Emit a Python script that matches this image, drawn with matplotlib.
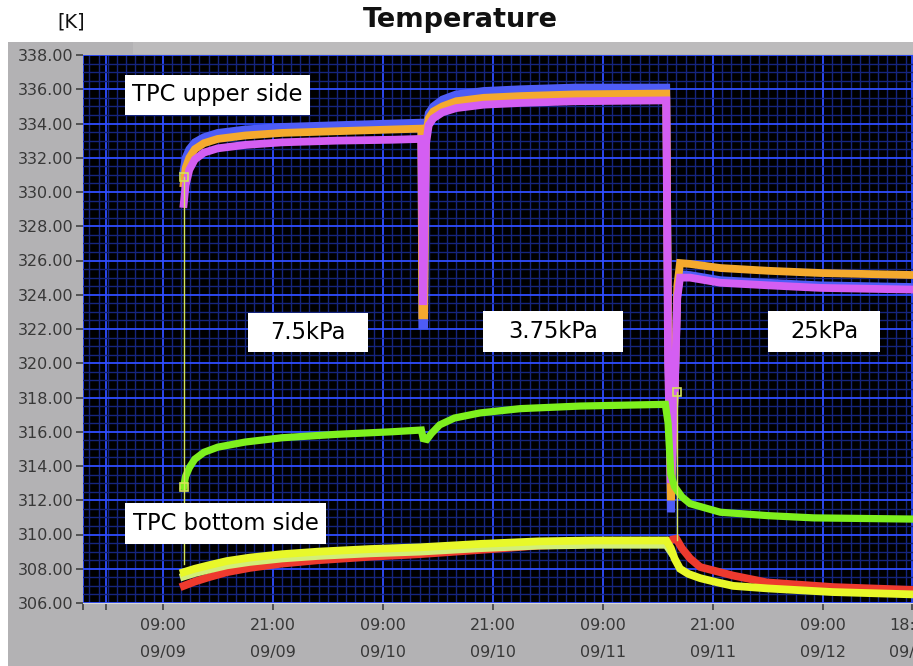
import matplotlib
matplotlib.use("Agg")
import matplotlib.pyplot as plt
from matplotlib.patches import Rectangle
from matplotlib.ticker import MultipleLocator, FixedLocator

# time axis: hours since 09/09 00:00
blue_t = [11.29, 11.5, 11.9, 12.5, 13.5, 15, 18, 22, 28, 34, 37.2, 37.3, 37.5, 37.7, 38.0, 38.5,
          39.5, 41, 44, 48, 54, 63.9, 64.1, 64.4, 64.8, 65.1, 65.4, 66.5, 69.8, 75, 80.7, 91]
blue_k = [331.3, 332.0, 332.5, 332.9, 333.2, 333.45, 333.65, 333.8, 333.9, 334.0, 334.05, 322.2, 322.2,
          333.5, 334.6, 335.0, 335.4, 335.7, 335.9, 336.0, 336.1, 336.1, 322.0, 311.3, 318.0, 324.0,
          325.2, 325.15, 324.85, 324.7, 324.55, 324.45]

orange_t = [11.29, 11.5, 11.9, 12.5, 13.5, 15, 18, 22, 28, 34, 37.2, 37.3, 37.5, 37.7, 38.0, 38.5,
            39.5, 41, 44, 48, 54, 63.9, 64.1, 64.4, 64.8, 65.1, 65.4, 66.5, 69.8, 75, 80.7, 91]
orange_k = [330.5, 331.4, 332.0, 332.5, 332.85, 333.1, 333.3, 333.45, 333.55, 333.65, 333.7, 322.8,
            322.8, 333.3, 334.3, 334.7, 335.0, 335.3, 335.5, 335.6, 335.7, 335.75, 322.0, 312.0, 318.0,
            324.5, 325.85, 325.8, 325.56, 325.4, 325.27, 325.15]

magenta_t = [11.29, 11.5, 11.9, 12.5, 13.5, 15, 18, 22, 28, 34, 37.2, 37.4, 37.7, 38.0, 38.5,
             39.5, 41, 44, 48, 54, 63.9, 64.1, 64.4, 64.8, 65.1, 65.4, 66.5, 69.8, 75, 80.7, 91]
magenta_k = [329.3, 330.4, 331.3, 331.9, 332.3, 332.55, 332.75, 332.9, 333.0, 333.05, 333.1, 323.4,
             332.8, 333.9, 334.3, 334.65, 334.9, 335.1, 335.2, 335.3, 335.35, 320.0, 313.0, 318.0,
             323.8, 325.0, 325.0, 324.7, 324.55, 324.4, 324.3]

green_t = [11.29, 11.5, 11.9, 12.5, 13.5, 15, 18, 22, 28, 34, 37.2, 37.4, 37.8, 38.3, 39.2, 40.8,
           43.6, 48, 54.5, 63.8, 64.1, 64.4, 64.8, 65.6, 66.5, 69.8, 75, 80, 91]
green_k = [312.8, 313.4, 313.9, 314.4, 314.8, 315.1, 315.4, 315.65, 315.85, 316.0, 316.1, 315.6,
           315.55, 315.9, 316.4, 316.8, 317.1, 317.35, 317.5, 317.6, 316.5, 313.5, 312.8, 312.2,
           311.8, 311.3, 311.1, 310.97, 310.9]

red_t = [11.29, 12.5, 14, 16, 18.5, 22, 26, 31.6, 37, 43.6, 50, 56, 63.9, 64.5, 65.0, 65.6,
         66.5, 67.6, 71.2, 74.9, 82.1, 91]
red_k = [307.0, 307.25, 307.5, 307.8, 308.05, 308.3, 308.5, 308.7, 308.85, 309.1, 309.35, 309.45,
         309.5, 309.7, 309.75, 309.2, 308.6, 308.1, 307.6, 307.2, 306.93, 306.76]

pale_t = [11.29, 12.5, 14, 16, 18.5, 22, 26, 31.6, 37, 43.6, 50, 56, 63.9, 64.4]
pale_k = [307.55, 307.75, 307.95, 308.2, 308.4, 308.6, 308.75, 308.9, 309.0, 309.2, 309.35, 309.4,
          309.4, 309.0]

yellow_t = [11.29, 12.5, 14, 16, 18.5, 22, 26, 31.6, 37, 43.6, 50, 56, 63.9, 64.4, 64.8, 65.4,
            66.3, 67.6, 69.5, 71.2, 75, 82, 91]
yellow_k = [307.8, 308.0, 308.2, 308.45, 308.65, 308.85, 309.0, 309.15, 309.25, 309.45, 309.6,
            309.65, 309.65, 309.2, 308.6, 308.0, 307.7, 307.45, 307.2, 307.0, 306.85, 306.64, 306.5]

# cursor lines (time, top K, bottom K) and their square markers
cursor_t = [11.29, 65.07]
cursor_top = [330.9, 318.3]
cursor_bottom = [308.3, 309.7]
marker_t = [11.29, 11.29, 65.07]
marker_k = [330.9, 312.8, 318.3]

xtick_pos = [0.35, 2.8, 9, 21, 33, 45, 57, 69, 81, 90.7]
xtick_labels = ["", "", "09:00\n09/09", "21:00\n09/09", "09:00\n09/10", "21:00\n09/10",
                "09:00\n09/11", "21:00\n09/11", "09:00\n09/12", "18:00\n09/12"]

W, H = 913, 666
fig = plt.figure(figsize=(W / 100, H / 100), dpi=100, facecolor="white")

# gray instrument frame
fig.add_artist(Rectangle((8 / W, 0), (W - 8) / W, (H - 42) / H, transform=fig.transFigure,
                         facecolor="#b3b2b4", edgecolor="none", zorder=-10))
fig.add_artist(Rectangle((133 / W, (H - 54) / H), (W - 133) / W, 12 / H, transform=fig.transFigure,
                         facecolor="#bcbbbc", edgecolor="none", zorder=-9))

ax = fig.add_axes([83 / W, 63 / H, 830 / W, 548 / H])
ax.set_facecolor("black")
ax.set_xlim(0.31, 90.8)
ax.set_ylim(306, 338)

ax.xaxis.set_major_locator(FixedLocator(xtick_pos))
ax.set_xticklabels(xtick_labels)
ax.xaxis.set_minor_locator(MultipleLocator(1))
ax.yaxis.set_major_locator(MultipleLocator(2))
ax.yaxis.set_minor_locator(MultipleLocator(0.5))
ax.yaxis.set_major_formatter(lambda v, p: f"{v:.2f}")

ax.grid(which="minor", color="#15257e", lw=1.0)
ax.grid(which="major", color="#2f4dff", lw=1.3)
ax.set_axisbelow(True)

ax.tick_params(axis="y", which="major", length=5, width=1.2, color="#404040", pad=2,
               labelsize=11.5, labelcolor="#383838")
ax.tick_params(axis="x", which="major", length=5, width=1.2, color="#404040", pad=6,
               labelsize=11.5, labelcolor="#383838")
ax.tick_params(which="minor", length=0)
for lbl in ax.get_xticklabels():
    lbl.set_linespacing(1.95)
for side in ["top", "right", "left"]:
    ax.spines[side].set_visible(False)
ax.spines["bottom"].set_color("#d8d8d8")

lw = 5.6
ax.plot(blue_t, blue_k, color="#4e5cf6", lw=lw, solid_joinstyle="miter")
ax.plot(orange_t, orange_k, color="#f4a92e", lw=lw, solid_joinstyle="miter")
ax.plot(magenta_t, magenta_k, color="#d45ef2", lw=lw, solid_joinstyle="miter")
ax.plot(green_t, green_k, color="#7ef01e", lw=5.2, solid_joinstyle="miter")
ax.plot(red_t, red_k, color="#ee3a2e", lw=lw, solid_joinstyle="miter")
ax.plot(pale_t, pale_k, color="#d2ee7a", lw=lw, solid_joinstyle="miter")
ax.plot(yellow_t, yellow_k, color="#e8f82a", lw=lw, solid_joinstyle="miter")

for t, k0, k1 in zip(cursor_t, cursor_top, cursor_bottom):
    ax.plot([t, t], [k0, k1], color="#d4e45a", lw=1.0, zorder=5)
ax.plot(marker_t, marker_k, ls="none", marker="s", ms=6, mfc="none", mec="#d4e45a", mew=1.2, zorder=6)

# white label boxes (pixel extents of the reference layout)
boxes = [
    ("TPC upper side", 125, 75, 310, 115),
    ("TPC bottom side", 125, 503, 326, 544),
    ("7.5kPa", 248, 313, 368, 352),
    ("3.75kPa", 483, 311, 623, 352),
    ("25kPa", 768, 311, 880, 352),
]
for text, x0, y0, x1, y1 in boxes:
    ax.add_patch(Rectangle(((x0 - 83) / 830, (603 - y1) / 548), (x1 - x0) / 830, (y1 - y0) / 548,
                           transform=ax.transAxes, facecolor="white", edgecolor="none", zorder=10))
    ax.text(((x0 + x1) / 2 - 83) / 830, (603 - (y0 + y1) / 2) / 548, text, transform=ax.transAxes,
            ha="center", va="center", fontsize=16.3, color="black", zorder=11)

fig.text(460.5 / W, 1 - 20 / H, "Temperature", ha="center", va="center", fontsize=19.5,
         fontweight="bold", color="#111111")
fig.text(71 / W, 1 - 22 / H, "[K]", ha="center", va="center", fontsize=14, color="#111111")

fig.savefig("out.png", dpi=100, facecolor="white")
